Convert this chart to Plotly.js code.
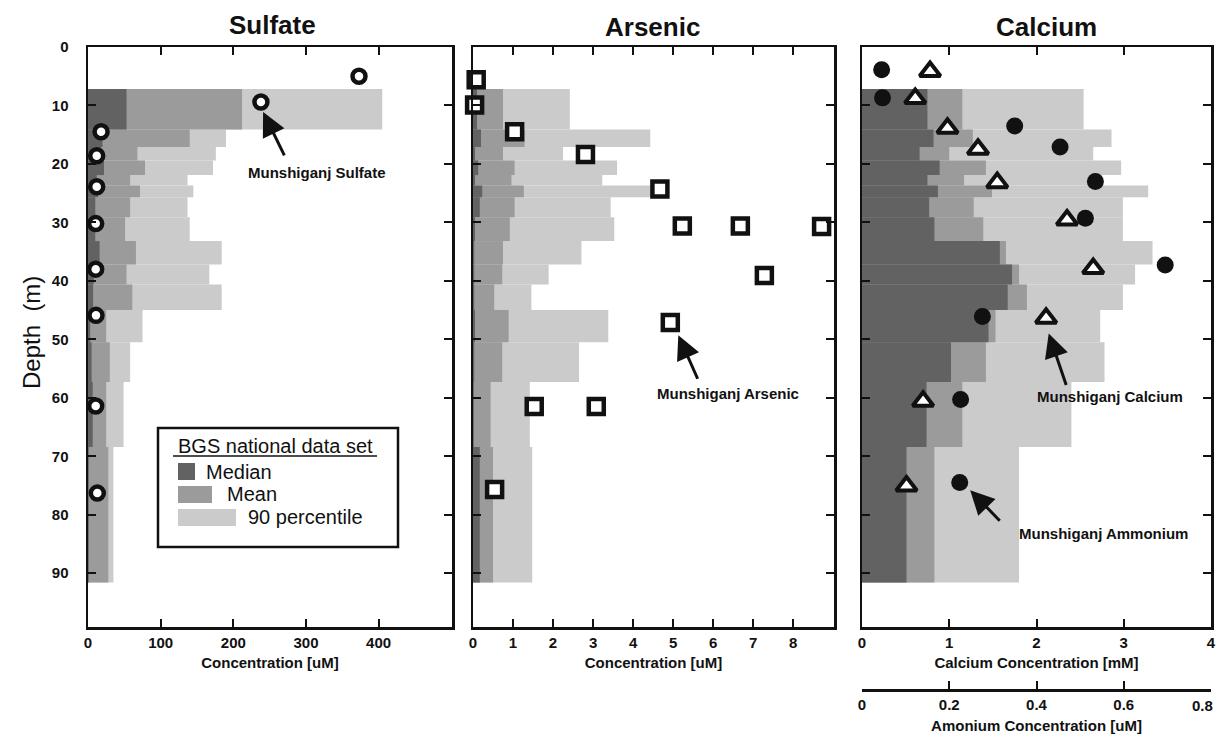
<!DOCTYPE html>
<html>
<head>
<meta charset="utf-8">
<script src="https://cdn.plot.ly/plotly-3.0.1.min.js"></script>
<style>html,body{margin:0;padding:0;background:#fff;}#chart{width:1216px;height:739px;}</style>
</head>
<body>
<div id="chart"></div>
<script>
// ---------- DATA ----------
// shared depth-bin edges (m) of the BGS national data set
const depthEdges = [7.2, 14.1, 17.1, 19.4, 21.9, 23.7, 25.7, 29.1, 33.2, 37.2, 40.6, 45.0, 50.5, 57.3, 68.4, 91.6];

// Sulfate (uM)
const sulfateMedian = [53, 20, 18, 22, 12, 14, 10, 10, 16, 8, 7, 3, 5, 6.5, 1];
const sulfateMean   = [212, 140, 68, 78.5, 58, 71.6, 58, 51, 66, 53, 61, 25, 30, 25, 28];
const sulfateP90    = [405, 190, 176, 172, 137, 145, 137, 140, 184, 167, 184, 75, 58, 49, 35];
const munSulfate      = [373, 238, 18, 12, 12, 10.6, 10.6, 11, 10.6, 12.8];
const munSulfateDepth = [5.0, 9.4, 14.5, 18.6, 23.9, 30.2, 38.0, 45.9, 61.4, 76.3];

// Arsenic (uM)
const arsenicMedian = [0.1, 0.2, 0.05, 0.13, 0.05, 0.23, 0.17, 0.05, 0.03, 0.03, 0.03, 0.05, 0.03, 0.02, 0.17];
const arsenicMean   = [0.75, 1.29, 0.75, 1.04, 0.96, 1.27, 1.04, 0.92, 0.75, 0.73, 0.53, 0.89, 0.73, 0.44, 0.5];
const arsenicP90    = [2.42, 4.43, 2.25, 3.6, 3.23, 4.43, 3.44, 3.53, 2.71, 1.89, 1.46, 3.38, 2.65, 1.42, 1.48];
const munArsenic      = [0.08, 0.04, 1.04, 2.81, 4.67, 5.23, 6.68, 8.71, 7.28, 4.93, 1.53, 3.08, 0.54];
const munArsenicDepth = [5.6, 9.9, 14.5, 18.4, 24.3, 30.6, 30.6, 30.7, 39.1, 47.1, 61.5, 61.5, 75.7];

// Calcium (mM)
const calciumMedian = [0.75, 0.82, 0.66, 0.89, 0.75, 0.87, 0.77, 0.83, 1.58, 1.72, 1.67, 1.45, 1.02, 0.74, 0.51];
const calciumMean   = [1.15, 1.27, 1.0, 1.42, 1.17, 1.49, 1.28, 1.39, 1.65, 1.80, 1.89, 1.53, 1.42, 1.15, 0.83];
const calciumP90    = [2.54, 2.86, 2.65, 2.97, 2.66, 3.28, 2.99, 2.99, 3.33, 3.13, 2.99, 2.73, 2.78, 2.40, 1.80];
const munCalcium      = [0.78, 0.61, 0.98, 1.33, 1.55, 2.35, 2.65, 2.11, 0.70, 0.51];
const munCalciumDepth = [4.2, 8.8, 13.9, 17.5, 23.2, 29.6, 37.9, 46.4, 60.6, 75.1];

// Ammonium (uM, lower axis)
const munAmmonium      = [0.045, 0.047, 0.35, 0.454, 0.535, 0.512, 0.695, 0.276, 0.226, 0.224];
const munAmmoniumDepth = [3.9, 8.7, 13.5, 17.1, 23.0, 29.3, 37.3, 46.1, 60.3, 74.5];

// tick values
const depthTicks    = [0, 10, 20, 30, 40, 50, 60, 70, 80, 90];
const sulfateTicks  = [0, 100, 200, 300, 400];
const arsenicTicks  = [0, 1, 2, 3, 4, 5, 6, 7, 8];
const calciumTicks  = [0, 1, 2, 3, 4];
const ammoniumTicks = [0, 0.2, 0.4, 0.6, 0.8];

const legendTitle = 'BGS national data set';
const legendLabels = ['Median', 'Mean', '90 percentile'];

// ---------- STYLE ----------
const W = 1216, H = 739, MT = 47, MB = 30;
const PH = H - MT - MB;
const px = x => x / W;
const py = y => (H - MB - y) / PH;
const FONT = "'Liberation Sans Narrow', 'Liberation Sans', Arial, sans-serif";
const FONT2 = "'Liberation Sans', Arial, sans-serif";
const C_MED = '#626262', C_MEAN = '#9b9b9b', C_P90 = '#cbcbcb';

const mids = depthEdges.slice(0, -1).map((e, i) => (e + depthEdges[i + 1]) / 2);
const thick = depthEdges.slice(0, -1).map((e, i) => depthEdges[i + 1] - e);

function bars(vals, color, xa, ya) {
  return {type: 'bar', orientation: 'h', x: vals, y: mids, width: thick, base: 0,
          marker: {color: color, line: {width: 0}}, xaxis: xa, yaxis: ya,
          showlegend: false, hoverinfo: 'skip'};
}

const traces = [
  bars(sulfateP90, C_P90, 'x', 'y'), bars(sulfateMean, C_MEAN, 'x', 'y'), bars(sulfateMedian, C_MED, 'x', 'y'),
  bars(arsenicP90, C_P90, 'x2', 'y2'), bars(arsenicMean, C_MEAN, 'x2', 'y2'), bars(arsenicMedian, C_MED, 'x2', 'y2'),
  bars(calciumP90, C_P90, 'x3', 'y3'), bars(calciumMean, C_MEAN, 'x3', 'y3'), bars(calciumMedian, C_MED, 'x3', 'y3'),
  {type: 'scatter', mode: 'markers', x: munSulfate, y: munSulfateDepth, xaxis: 'x', yaxis: 'y',
   marker: {symbol: 'circle', size: 13, color: '#fff', line: {color: '#111', width: 4.5}}, showlegend: false, cliponaxis: false},
  {type: 'scatter', mode: 'markers', x: munArsenic, y: munArsenicDepth, xaxis: 'x2', yaxis: 'y2',
   marker: {symbol: 'square', size: 15, color: '#fff', line: {color: '#111', width: 4.5}}, showlegend: false, cliponaxis: false},
  {type: 'scatter', mode: 'markers', x: munAmmonium, y: munAmmoniumDepth, xaxis: 'x4', yaxis: 'y3',
   marker: {symbol: 'circle', size: 17, color: '#111', line: {width: 0}}, showlegend: false, cliponaxis: false},
  {type: 'scatter', mode: 'markers', x: munCalcium, y: munCalciumDepth, xaxis: 'x3', yaxis: 'y3',
   marker: {symbol: 'triangle-up', size: 18, color: '#fff', line: {color: '#111', width: 4}}, showlegend: false, cliponaxis: false}
];

const tickFont = {family: FONT, size: 15, color: '#111', weight: 'bold'};
const yDom = [py(627), 1];
function xAxis(dom, range, ticks, anchor, title) {
  return {domain: dom, range: range, tickvals: ticks, ticktext: ticks.map(String), anchor: anchor,
          ticks: 'inside', ticklen: 8, tickwidth: 2, tickcolor: '#111',
          showline: true, linewidth: 2.5, linecolor: '#111', mirror: 'ticks',
          showgrid: false, zeroline: false, tickfont: tickFont, ticklabeloverflow: 'allow',
          title: {text: title, font: {family: FONT, size: 15, color: '#111', weight: 'bold'}, standoff: 8}};
}
function yAxis(anchor, labels) {
  return {domain: yDom, range: [99.2, 0], tickvals: depthTicks, anchor: anchor,
          ticks: 'inside', ticklen: 8, tickwidth: 2, tickcolor: '#111',
          showline: true, linewidth: 2.5, linecolor: '#111', mirror: 'ticks',
          showgrid: false, zeroline: false, showticklabels: labels, tickfont: tickFont,
          ticklabelstandoff: 14};
}

const dS = [px(88), px(452)], dA = [px(473), px(834)], dC = [px(862), px(1211)];

const annFont = {family: FONT, size: 15, color: '#111', weight: 'bold'};
function arrow(xref, yref, x, y, ax, ay) {
  return {xref: xref, yref: yref, x: x, y: y, ax: ax, ay: ay, text: '', showarrow: true,
          arrowhead: 2, arrowsize: 1.6, arrowwidth: 3, arrowcolor: '#111', standoff: 0};
}
function label(text, x, y, opts) {
  return Object.assign({xref: 'paper', yref: 'paper', x: px(x), y: py(y), text: text, showarrow: false,
          font: annFont, xanchor: 'center', yanchor: 'middle'}, opts || {});
}
const titleFont = {family: FONT, size: 26, color: '#111', weight: 'bold'};
const legFont = {family: FONT2, size: 20, color: '#111'};

// ammonium axis: last tick label is drawn right-aligned at the panel edge (as in the reference)
const ammTickText = ammoniumTicks.map((v, i) => i === ammoniumTicks.length - 1 ? '' : String(v));

const annotations = [
  label('Sulfate', 272, 25, {font: titleFont}),
  label('Arsenic', 652, 27, {font: titleFont}),
  label('Calcium', 1046, 27, {font: titleFont}),
  label('Depth  (m)', 32, 333, {textangle: -90, font: {family: FONT2, size: 24, color: '#111'}}),
  arrow('x', 'y', 241, 11.1, 22, 45),
  label('Munshiganj Sulfate', 317, 172),
  arrow('x2', 'y2', 5.13, 49.3, 20, 45),
  label('Munshiganj Arsenic', 728, 393),
  arrow('x3', 'y3', 2.14, 49.0, 18, 53),
  label('Munshiganj Calcium', 1110, 397),
  arrow('x4', 'y3', 0.248, 75.8, 31, 32),
  label('Munshiganj Ammonium', 1103, 533),
  label(legendTitle, 275, 446, {font: legFont}),
  label(legendLabels[0], 204, 472, {xanchor: 'left', font: legFont}),
  label(legendLabels[1], 225, 494, {xanchor: 'left', font: legFont}),
  label(legendLabels[2], 246, 517, {xanchor: 'left', font: legFont}),
  {xref: 'x4', yref: 'paper', x: ammoniumTicks[ammoniumTicks.length - 1], y: py(705),
   text: String(ammoniumTicks[ammoniumTicks.length - 1]), showarrow: false,
   xanchor: 'right', yanchor: 'middle', xshift: 4, font: tickFont}
];

const shapes = [
  {type: 'rect', xref: 'paper', yref: 'paper', x0: px(158), x1: px(398), y0: py(547), y1: py(428),
   line: {color: '#111', width: 2.5}, fillcolor: '#fff', layer: 'above'},
  {type: 'line', xref: 'paper', yref: 'paper', x0: px(173), x1: px(377), y0: py(456), y1: py(456),
   line: {color: '#111', width: 1.5}},
  {type: 'rect', xref: 'paper', yref: 'paper', x0: px(178), x1: px(195), y0: py(480), y1: py(463),
   line: {width: 0}, fillcolor: C_MED},
  {type: 'rect', xref: 'paper', yref: 'paper', x0: px(178), x1: px(212), y0: py(503), y1: py(486),
   line: {width: 0}, fillcolor: C_MEAN},
  {type: 'rect', xref: 'paper', yref: 'paper', x0: px(178), x1: px(236), y0: py(526), y1: py(509),
   line: {width: 0}, fillcolor: C_P90}
];

const layout = {
  width: W, height: H, margin: {l: 0, r: 0, t: MT, b: MB},
  paper_bgcolor: '#fff', plot_bgcolor: '#fff', barmode: 'overlay', showlegend: false,
  font: {family: FONT, color: '#111'},
  xaxis: xAxis(dS, [0, 501], sulfateTicks, 'y', 'Concentration [uM]'),
  xaxis2: xAxis(dA, [0, 9.02], arsenicTicks, 'y2', 'Concentration [uM]'),
  xaxis3: xAxis(dC, [0, 4], calciumTicks, 'y3', 'Calcium Concentration [mM]'),
  xaxis4: Object.assign(xAxis(dC, [0, 0.8], ammoniumTicks, 'free', 'Amonium Concentration [uM]'),
                        {overlaying: 'x3', side: 'bottom', position: py(690), mirror: false, ticktext: ammTickText}),
  yaxis: yAxis('x', true),
  yaxis2: yAxis('x2', false),
  yaxis3: yAxis('x3', false),
  annotations: annotations,
  shapes: shapes
};

Plotly.newPlot('chart', traces, layout, {staticPlot: true, displayModeBar: false});
</script>
</body>
</html>
